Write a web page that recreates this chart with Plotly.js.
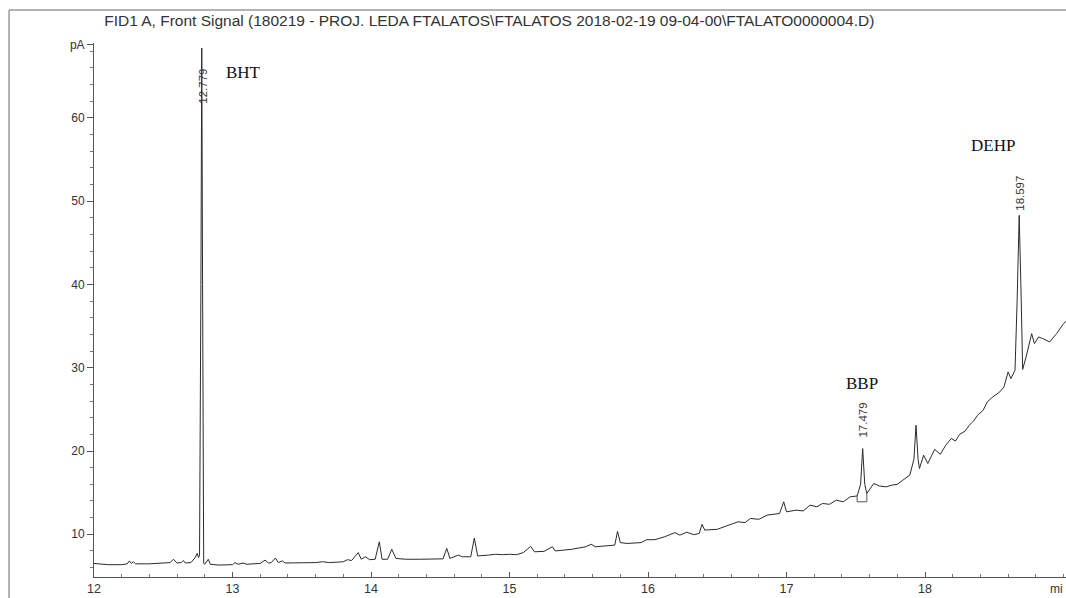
<!DOCTYPE html>
<html>
<head>
<meta charset="utf-8">
<script src="https://cdn.plot.ly/plotly-3.0.1.min.js"></script>
<style>
html,body{margin:0;padding:0;background:#fff;}
#chart{width:1066px;height:598px;}
</style>
</head>
<body>
<div id="chart"></div>
<script>
// Retention time (min) and FID signal (pA)
const times = [
 12.00,12.10,12.20,12.24,12.255,12.27,12.284,12.30,12.40,12.50,
 12.55,12.573,12.60,12.63,12.645,12.66,12.70,12.73,12.745,12.755,
 12.762,12.772,12.778,12.784,12.792,12.80,12.825,12.84,12.90,13.00,
 13.018,13.04,13.076,13.10,13.15,13.20,13.235,13.26,13.28,13.31,
 13.33,13.36,13.38,13.50,13.60,13.65,13.70,13.80,13.83,13.86,
 13.908,13.93,13.96,13.99,14.03,14.06,14.08,14.12,14.15,14.18,
 14.25,14.35,14.45,14.52,14.547,14.57,14.60,14.63,14.66,14.72,
 14.746,14.77,14.85,14.90,14.95,15.00,15.05,15.10,15.153,15.18,
 15.25,15.31,15.33,15.40,15.45,15.55,15.59,15.62,15.70,15.76,
 15.78,15.80,15.85,15.95,15.99,16.05,16.12,16.195,16.23,16.28,
 16.33,16.37,16.39,16.41,16.50,16.55,16.61,16.65,16.70,16.74,
 16.80,16.86,16.95,16.98,17.00,17.07,17.12,17.17,17.22,17.26,
 17.31,17.36,17.41,17.46,17.51,17.535,17.55,17.565,17.58,17.63,
 17.67,17.72,17.76,17.80,17.84,17.89,17.92,17.935,17.95,17.96,
 17.99,18.02,18.07,18.11,18.15,18.19,18.22,18.25,18.29,18.32,
 18.35,18.38,18.42,18.45,18.49,18.54,18.57,18.60,18.62,18.65,
 18.665,18.68,18.695,18.705,18.73,18.77,18.79,18.82,18.85,18.90,
 18.95,19.00,19.02
];
const signal = [
 6.5,6.35,6.35,6.45,6.8,6.5,6.7,6.45,6.45,6.5,
 6.6,7.0,6.55,6.6,6.85,6.55,6.6,7.2,7.7,7.2,
 7.5,40.0,68.4,40.0,6.5,6.4,7.0,6.4,6.3,6.35,
 6.6,6.4,6.55,6.4,6.45,6.5,6.9,6.55,6.6,7.15,
 6.6,6.8,6.55,6.55,6.6,6.7,6.6,6.7,6.95,6.85,
 7.8,7.0,7.3,6.95,7.0,9.1,7.0,7.0,8.2,7.1,
 7.0,7.0,7.0,7.05,8.3,7.1,7.3,7.5,7.3,7.3,
 9.55,7.4,7.5,7.6,7.55,7.6,7.55,7.8,8.55,7.9,
 7.95,8.5,8.0,8.1,8.2,8.5,8.8,8.5,8.6,8.7,
 10.35,9.0,8.9,9.0,9.35,9.35,9.7,10.2,9.9,10.25,
 9.95,10.1,11.2,10.5,10.6,10.9,11.3,11.5,11.4,11.9,
 11.8,12.3,12.5,13.9,12.7,12.9,12.8,13.5,13.3,13.7,
 13.6,14.1,13.9,14.5,14.6,16.0,20.3,16.0,14.9,16.1,
 15.8,15.7,15.9,16.0,16.5,17.1,19.0,23.1,19.0,17.9,
 19.5,18.5,20.2,19.6,20.7,21.5,21.2,22.0,22.4,23.1,
 23.6,24.3,24.9,25.9,26.5,27.1,27.7,29.5,28.7,29.7,
 38.0,48.3,38.0,29.8,31.3,34.1,32.9,33.7,33.5,33.1,
 34.1,35.3,35.6
];
// Integration baseline marker under the BBP peak
const bbpBaseT = [17.51,17.51,17.58,17.58];
const bbpBaseV = [14.6,13.9,13.9,14.9];

const yTickVals = [10,20,30,40,50,60,68.8];
const yTickText = ['10','20','30','40','50','60','pA'];
const xTickVals = [12,13,14,15,16,17,18];
const xTickText = ['12','13','14','15','16','17','18'];

// Peak annotations
const peakNames = ['BHT','BBP','DEHP'];
const peakNameT = [13.076,17.545,18.49];
const peakNameV = [65.4,28.15,56.75];
const rtLabels = ['12.779','17.479','18.597'];
const rtT = [12.79,17.555,18.685];
const rtV = [63.8,23.7,51.0];

const traces = [
 {x: times, y: signal, type:'scatter', mode:'lines',
  line:{color:'#2b2b2b', width:1}, hoverinfo:'x+y'},
 {x: bbpBaseT, y: bbpBaseV, type:'scatter', mode:'lines',
  line:{color:'#555', width:1}, hoverinfo:'skip'}
];

const annotations = [];
for (let i=0;i<peakNames.length;i++){
  annotations.push({x:peakNameT[i], y:peakNameV[i], xref:'x', yref:'y', text:peakNames[i],
    showarrow:false, font:{family:'Liberation Serif, DejaVu Serif, serif', size:17, color:'#111'}});
  annotations.push({x:rtT[i], y:rtV[i], xref:'x', yref:'y', text:rtLabels[i], textangle:-90,
    showarrow:false, font:{family:'Liberation Sans, Arial, sans-serif', size:11.5, color:'#333'}});
}
annotations.push({x:1.0, y:-0.005, xref:'paper', yref:'paper', xanchor:'right', yanchor:'top',
  xshift:-1, text:'mi', showarrow:false, font:{family:'Liberation Sans, Arial, sans-serif', size:12, color:'#333'}});

const layout = {
  width:1066, height:598,
  margin:{l:94, r:0, t:43, b:21, pad:0},
  paper_bgcolor:'#fff', plot_bgcolor:'#fff',
  showlegend:false,
  font:{family:'Liberation Sans, Arial, sans-serif', size:12, color:'#333'},
  title:{text:'FID1 A, Front Signal (180219 - PROJ. LEDA FTALATOS\\FTALATOS 2018-02-19 09-04-00\\FTALATO0000004.D)',
    xref:'container', yref:'container', x:0.459, y:0.966, xanchor:'center', yanchor:'middle',
    font:{family:'Liberation Sans, Arial, sans-serif', size:15.5, color:'#333'}},
  xaxis:{range:[12,19.018], autorange:false, showgrid:false, zeroline:false,
    showline:true, linecolor:'#555', linewidth:1,
    tickvals:xTickVals, ticktext:xTickText, ticks:'inside', ticklen:5, tickcolor:'#555',
    tickfont:{size:12.5, color:'#333'},
    minor:{dtick:0.2, tick0:12, ticks:'inside', ticklen:3, tickcolor:'#777'}},
  yaxis:{range:[4.87,69.0], autorange:false, showgrid:false, zeroline:false,
    showline:true, linecolor:'#555', linewidth:1,
    tickvals:yTickVals, ticktext:yTickText, ticks:'outside', ticklen:6, tickcolor:'#555',
    tickfont:{size:12, color:'#333'},
    minor:{dtick:2, tick0:0, ticks:'outside', ticklen:3, tickcolor:'#777'}},
  annotations: annotations,
  shapes:[
    {type:'line', xref:'paper', yref:'paper', x0:-0.0874, x1:-0.0874, y0:1.0618, y1:-0.05,
     line:{color:'#9a9a9a', width:1.5}},
    {type:'line', xref:'paper', yref:'paper', x0:-0.0874, x1:1.0, y0:1.0618, y1:1.0618,
     line:{color:'#9a9a9a', width:1.5}}
  ]
};

Plotly.newPlot('chart', traces, layout, {displayModeBar:false, responsive:false});
</script>
</body>
</html>
